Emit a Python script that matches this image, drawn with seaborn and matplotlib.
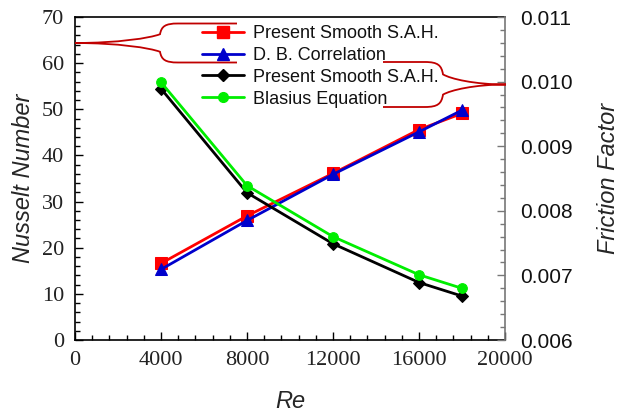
import numpy as np
import pandas as pd
import matplotlib
matplotlib.use("Agg")
import matplotlib.pyplot as plt
import seaborn as sns
from matplotlib.path import Path
from matplotlib.patches import PathPatch
from matplotlib.ticker import MultipleLocator
from matplotlib.lines import Line2D

# ---- data ----
re_vals = [4000, 8000, 12000, 16000, 18000]
nu_present = [16.6, 26.9, 36.1, 45.6, 49.1]
nu_db = [15.3, 25.9, 35.9, 45.1, 49.8]
f_present = [0.00989, 0.00828, 0.00749, 0.00689, 0.00668]
f_blasius = [0.00999, 0.00839, 0.00760, 0.00701, 0.00680]
legend_labels = ["Present Smooth S.A.H.", "D. B. Correlation",
                 "Present Smooth S.A.H.", "Blasius Equation"]

sns.set_theme(style="ticks")
plt.rcParams['font.family'] = ['Liberation Sans', 'DejaVu Sans']

W, H = 622, 416
fig = plt.figure(figsize=(W / 100, H / 100), dpi=100)
ax = fig.add_axes([75 / W, 1 - 340 / H, 430 / W, 323 / H])
ax2 = ax.twinx()

df_nu = pd.DataFrame({"Re": re_vals, "a": nu_present, "b": nu_db})
df_f = pd.DataFrame({"Re": re_vals, "c": f_present, "d": f_blasius})

lw = 2.0
sns.lineplot(data=df_nu, x="Re", y="a", ax=ax, color="#ff0000", lw=lw,
             marker="s", markersize=8, markeredgecolor="#ff0000")
sns.lineplot(data=df_nu, x="Re", y="b", ax=ax, color="#0000cc", lw=lw,
             marker="^", markersize=9, markeredgecolor="#0000cc")
sns.lineplot(data=df_f, x="Re", y="c", ax=ax2, color="black", lw=lw,
             marker="D", markersize=6, markeredgecolor="black")
sns.lineplot(data=df_f, x="Re", y="d", ax=ax2, color="#00ee00", lw=lw,
             marker="o", markersize=7, markeredgecolor="#00ee00")

ax.set_xlim(0, 20000)
ax.set_ylim(0, 70)
ax2.set_ylim(0.006, 0.011)

ax.xaxis.set_major_locator(MultipleLocator(4000))
ax.xaxis.set_minor_locator(MultipleLocator(800))
ax.yaxis.set_major_locator(MultipleLocator(10))
ax.yaxis.set_minor_locator(MultipleLocator(2))
ax2.yaxis.set_major_locator(MultipleLocator(0.001))
ax2.yaxis.set_minor_locator(MultipleLocator(0.0002))
ax2.set_yticklabels([f"{v:.3f}" for v in ax2.get_yticks()])

serif = ['Liberation Serif', 'DejaVu Serif']
ax.tick_params(axis='both', which='both', direction='in', color='black')
ax.tick_params(axis='both', which='major', length=6, width=1.0)
ax.tick_params(axis='both', which='minor', length=3.5, width=1.0)
ax.tick_params(axis='x', which='major', pad=8)
ax.tick_params(axis='y', which='major', pad=8)
ax.tick_params(top=False, right=False, which='both')
for lab in ax.get_xticklabels() + ax.get_yticklabels():
    lab.set_fontfamily(serif)
    lab.set_fontsize(16)
    lab.set_color('#222222')

ax2.tick_params(axis='y', which='both', direction='in', color='#777777')
ax2.tick_params(axis='y', which='major', length=6, width=1.0, pad=11,
                labelsize=15, labelcolor='#111111')
ax2.tick_params(axis='y', which='minor', length=3.5, width=1.0)

for sp in ['left', 'bottom', 'top']:
    ax.spines[sp].set_color('black')
    ax.spines[sp].set_linewidth(1.2)
ax.spines['right'].set_visible(False)
for sp in ['left', 'bottom', 'top']:
    ax2.spines[sp].set_visible(False)
ax2.spines['right'].set_color('#777777')
ax2.spines['right'].set_linewidth(1.2)

ax.set_xlabel("Re", fontsize=17, style='italic', labelpad=14)
ax.set_ylabel("Nusselt Number", fontsize=17, style='italic', labelpad=5)
ax2.set_ylabel("Friction Factor", fontsize=17, style='italic', labelpad=17)

# legend
handles = [
    Line2D([], [], color="#ff0000", lw=lw, marker="s", markersize=8),
    Line2D([], [], color="#0000cc", lw=lw, marker="^", markersize=9),
    Line2D([], [], color="black", lw=lw, marker="D", markersize=6),
    Line2D([], [], color="#00ee00", lw=lw, marker="o", markersize=7),
]
leg = ax2.legend(handles, legend_labels, loc='upper left',
                 bbox_to_anchor=(202 / W, 1 - 25 / H), bbox_transform=fig.transFigure,
                 frameon=False, fontsize=13, handlelength=2.3, handletextpad=0.5,
                 labelspacing=0.27, borderaxespad=0, borderpad=0)
for t in leg.get_texts():
    t.set_color('#111111')


# braces (decorative annotations, pixel layout)
def brace(tip, yc, kink, h, end):
    d = 1 if end > tip else -1
    L1 = abs(kink - tip)
    verts, codes = [], []
    for s in (-1, 1):
        pts = [
            (tip, yc),
            (tip + d * 0.5 * L1, yc), (kink - d * 0.12 * L1, yc + s * 0.25 * h), (kink, yc + s * 0.45 * h),
            (kink + d * 1.5, yc + s * 0.85 * h), (kink + d * 5, yc + s * h), (kink + d * 18, yc + s * h),
            (end, yc + s * h),
        ]
        c = [Path.MOVETO, Path.CURVE4, Path.CURVE4, Path.CURVE4,
             Path.CURVE4, Path.CURVE4, Path.CURVE4, Path.LINETO]
        verts += [(x / W, 1 - y / H) for x, y in pts]
        codes += c
    p = PathPatch(Path(verts, codes), transform=fig.transFigure, fill=False,
                  edgecolor='#c00000', lw=1.3, zorder=10)
    fig.patches.append(p)


brace(75, 43, 160, 19.5, 237)
brace(506, 84.5, 443, 22.5, 383)

fig.savefig("out.png", dpi=100)
